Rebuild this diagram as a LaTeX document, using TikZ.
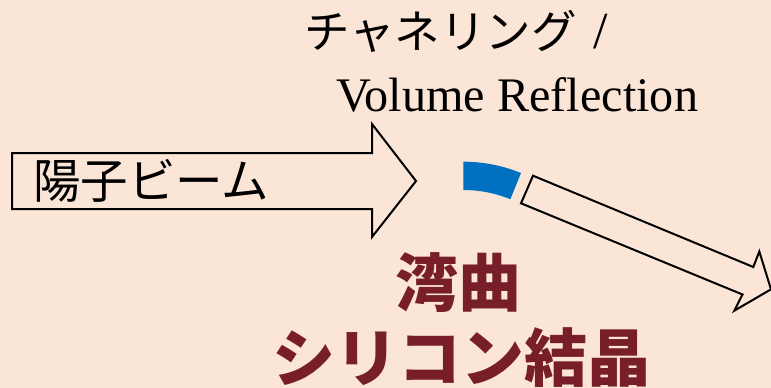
\documentclass[tikz,border=0pt]{standalone}
\usepackage{fontspec}
\setmainfont{Liberation Serif}
\newfontfamily\jp{Noto Sans CJK JP}
\definecolor{bg}{HTML}{FBE5D6}
\definecolor{crystal}{HTML}{0070C0}
\definecolor{darkred}{RGB}{120,30,40}
\tikzset{
  outlinearrow/.style={draw=black, line width=2pt, fill=bg, line join=miter},
  beamtext/.style={inner sep=0pt, font=\jp\fontsize{47.5}{52}\selectfont},
  labeltext/.style={inner sep=0pt, font=\fontsize{48.2}{52}\selectfont},
  titletext/.style={inner sep=0pt, text=darkred, font=\jp\bfseries\fontsize{63}{70}\selectfont},
}
\begin{document}
\begin{tikzpicture}[x=1pt,y=-1pt]
\fill[bg] (0,0) rectangle (771,388);
\useasboundingbox (0,0) rectangle (771,388);
% incoming beam arrow
\draw[outlinearrow] (12,153) -- (372,153) -- (372,124) -- (416,181) -- (372,237) -- (372,209) -- (12,209) -- cycle;
\node[beamtext, anchor=west] (beam) at (33,181) {陽子ビーム};
% bent crystal
\coordinate (c) at (463.3,314.5);
\fill[crystal] ([shift={(90:152.8pt)}]c) arc[start angle=90,end angle=67.8,radius=152.8pt]
  -- ([shift={(67.8:124.5pt)}]c) arc[start angle=67.8,end angle=90,radius=124.5pt] -- cycle;
% deflected beam arrow
\draw[outlinearrow] (533,175.7) -- (753.3,267) -- (759.3,251.5) -- (771,289.3) -- (734.3,310.7) -- (742.5,294.5) -- (521,203.3) -- cycle;
% labels
\node[labeltext, anchor=base west] (l1) at (304,48) {{\jp\fontsize{45.5}{50}\selectfont チャネリング}\hspace{0.35em}{\fontsize{52}{56}\selectfont /}};
\node[labeltext, anchor=base west] (l2) at (336,111.7) {Volume Reflection};
\node[titletext, anchor=base] (t1) at (458,306) {湾曲};
\node[titletext, anchor=base] (t2) at (461,381) {シリコン結晶};
\end{tikzpicture}
\end{document}
